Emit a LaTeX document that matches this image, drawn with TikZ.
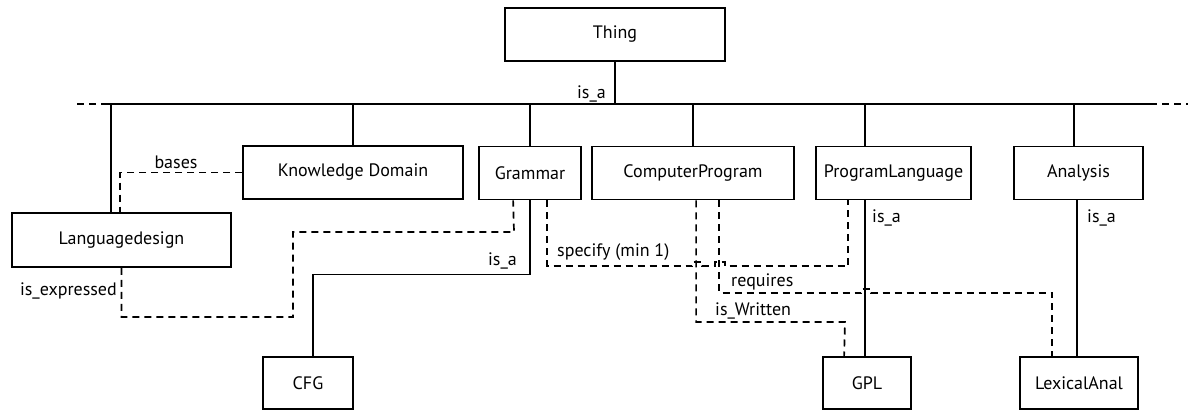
\documentclass[tikz,border=0pt]{standalone}
\usepackage{fontspec}
\setmainfont{PT Sans}
\usetikzlibrary{calc}
\tikzset{
  box/.style={draw, line width=1.8pt, minimum height=53pt, inner sep=0pt, font=\fontsize{18}{20}\selectfont},
  solidline/.style={line width=1.8pt},
  dline/.style={line width=1.7pt, dash pattern=on 7pt off 5pt},
  lbl/.style={font=\fontsize{18}{20}\selectfont, inner sep=0pt}
}
\begin{document}
\begin{tikzpicture}[x=1pt,y=-1pt]
\useasboundingbox (0,0) rectangle (1188,410);
% boxes
\node[box, minimum width=220pt] (thing) at (615,34.5) {Thing};
\node[box, minimum width=220pt] (kd) at (353,172.5) {Knowledge Domain};
\node[box, minimum width=102pt] (gr) at (530,173) {Grammar};
\node[box, minimum width=202pt] (cp) at (693,173) {ComputerProgram};
\node[box, minimum width=155pt] (pl) at (893.5,173) {ProgramLanguage};
\node[box, minimum width=129pt] (an) at (1078.5,173) {Analysis};
\node[box, minimum width=219pt, minimum height=54pt] (ld) at (121.5,240) {Languagedesign};
\node[box, minimum width=90pt, minimum height=52pt] (cfg) at (308,383) {CFG};
\node[box, minimum width=88pt, minimum height=52pt] (gpl) at (867,383) {GPL};
\node[box, minimum width=118pt, minimum height=52pt] (lex) at (1079,383) {LexicalAnal};
% bus
\coordinate (bus) at (615,104);
\coordinate (busL) at (105,104);
\coordinate (busR) at (1150,104);
\coordinate (busLend) at (77,104);
\coordinate (busRend) at (1188,104);
\draw[solidline] (busL) -- (busR);
\draw[dline] (busLend) -- (busL);
\draw[dline] (busR) -- (busRend);
\draw[solidline] (thing.south) -- (bus);
\node[lbl, anchor=east] at (606,94) {is\_a};
% drops
\draw[solidline] ($(ld.north west)+(100,0)$) -- ($(ld.north west)+(100,-109)$);
\draw[solidline] (kd.north) -- (kd.north |- bus);
\draw[solidline] (gr.north) -- (gr.north |- bus);
\draw[solidline] (cp.north) -- (cp.north |- bus);
\draw[solidline] ($(pl.north west)+(50,0)$) -- ($(pl.north west)+(50,-43)$);
\draw[solidline] ($(an.north west)+(61,0)$) -- ($(an.north west)+(61,-43)$);
% is_a to children
\draw[solidline] (gr.south) -- ++(0,74) -| ($(cfg.north west)+(51,0)$);
\node[lbl, anchor=east] at (517,261) {is\_a};
\draw[solidline] ($(pl.south west)+(50,0)$) -- ($(gpl.north west)+(43,0)$);
\node[lbl, anchor=west] at (872,218) {is\_a};
\draw[solidline] ($(an.south west)+(64,0)$) -- ($(lex.north west)+(58,0)$);
\node[lbl, anchor=west] at (1087,218) {is\_a};
% dashed relations
\draw[dline] (kd.west) -| ($(ld.north west)+(109,0)$);
\node[lbl] at (176,162) {bases};
\draw[dline] (ld.south) |- (293,317) |- (514,232) -- ($(gr.south west)+(35,0)$);
\node[lbl, anchor=east] at (117,291) {is\_expressed};
\draw[dline] ($(gr.south west)+(69,0)$) |- (692,266) -- (692,262) -- (702,262) -- (702,266)
  -- (715,266) -- (715,262) -- (725,262) -- (725,266) -| ($(pl.south west)+(33,0)$);
\node[lbl, anchor=west] at (557,252) {specify (min 1)};
\draw[dline] ($(cp.south west)+(105,0)$) |- (845,322) -- ($(gpl.north west)+(22,0)$);
\node[lbl, anchor=west] at (715,311) {is\_Written};
\draw[dline] ($(cp.south west)+(128,0)$) |- (861,293) -- (861,289) -- (871,289) -- (871,293)
  -| ($(lex.north west)+(33,0)$);
\node[lbl, anchor=west] at (731,282) {requires};
\end{tikzpicture}
\end{document}
